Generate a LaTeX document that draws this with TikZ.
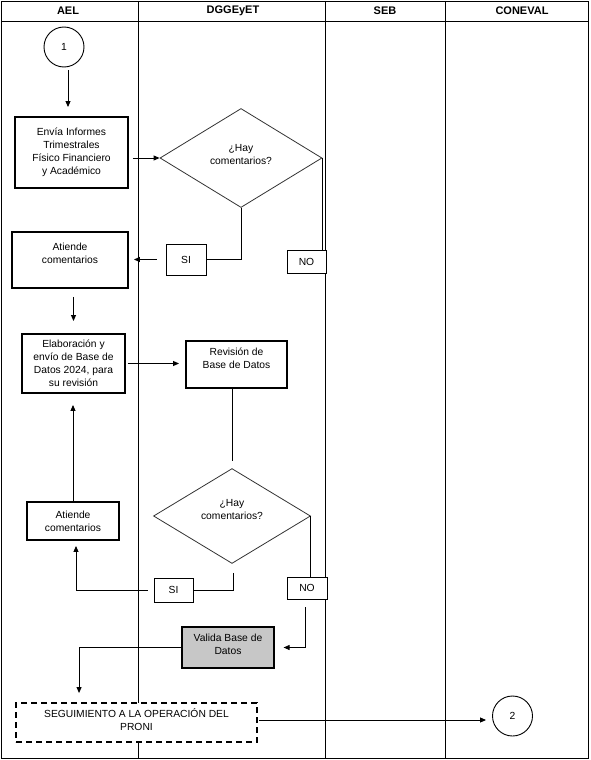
\documentclass[tikz,border=0pt]{standalone}
\usepackage{fontspec}
\setmainfont{Liberation Sans}
\usetikzlibrary{shapes.geometric,calc,arrows.meta}
\begin{document}
\begin{tikzpicture}[x=1pt,y=-1pt,
  every node/.style={font=\fontsize{10.3}{13}\selectfont, align=center, inner sep=0pt},
  frame/.style={line width=0.9pt, draw=black},
  head/.style={font=\fontsize{11}{12}\selectfont\bfseries},
  thickbox/.style={draw=black, line width=1.9pt, fill=white, rectangle},
  thinbox/.style={draw=black, line width=0.9pt, fill=white, rectangle},
  graybox/.style={draw=black, line width=1.2pt, fill=black!22, rectangle},
  dashbox/.style={draw=black, line width=1.9pt, fill=white, rectangle, dash pattern=on 6pt off 4pt},
  decision/.style={draw=black!80, line width=0.8pt, fill=white, diamond},
  circ/.style={draw=black, line width=0.9pt, fill=white, circle, minimum size=40pt},
  conn/.style={line width=0.9pt, draw=black},
  arr/.style={conn, -{Triangle[length=6pt,width=5pt]}}
]
\useasboundingbox (0,0) rectangle (590,760);
% frame and lanes
\draw[frame] (1,1) rectangle (588.5,758);
\draw[frame] (1,21) -- (588.5,21);
\foreach \x in {138,325,445} \draw[frame] (\x,1) -- (\x,758);
\node[head] (hA) at (68,11) {AEL};
\node[head] (hB) at (233,11) {DGGEyET};
\node[head] (hC) at (385,11) {SEB};
\node[head] (hD) at (522,11) {CONEVAL};
% nodes
\node[circ] (c1) at (64,47) {1};
\node[thickbox, minimum width=113pt, minimum height=71pt] (b1) at (71.5,152.5) {Envía Informes\\Trimestrales\\Físico Financiero\\y Académico};
\node[decision, minimum width=162pt, minimum height=99pt] (d1) at (241,158) {¿Hay\\comentarios?\\[-5pt]\mbox{}};
\node[thickbox, minimum width=116pt, minimum height=56pt] (a1) at (70,260) {Atiende\\comentarios\\\mbox{}};
\node[thinbox, minimum width=40pt, minimum height=31pt] (si1) at (186,259.5) {SI};
\node[thinbox, minimum width=39pt, minimum height=23pt] (no1) at (306.5,261.5) {NO};
\node[thickbox, minimum width=103pt, minimum height=59pt] (e) at (73.5,363.5) {Elaboración y\\envío de Base de\\Datos 2024, para\\su revisión};
\node[thickbox, minimum width=101pt, minimum height=47pt] (r) at (236.5,364.5) {Revisión de\\Base de Datos\\\mbox{}};
\node[decision, minimum width=157pt, minimum height=89pt] (d2) at (232,516) {¿Hay\\comentarios?\\\mbox{}};
\node[thickbox, minimum width=92pt, minimum height=38pt] (a2) at (73,521) {Atiende\\comentarios};
\node[thinbox, minimum width=39pt, minimum height=24pt] (si2) at (173.5,590) {SI};
\node[thinbox, minimum width=40pt, minimum height=22pt] (no2) at (307,588) {NO};
\node[graybox, minimum width=92pt, minimum height=41pt] (v) at (228,647.5) {Valida Base de\\Datos\\[-6pt]\mbox{}};
\node[dashbox, minimum width=241pt, minimum height=39pt] (s) at (136.5,722.5) {SEGUIMIENTO A LA OPERACIÓN DEL\\PRONI\\[-8pt]\mbox{}};
\node[circ] (c2) at (512.5,716) {2};
% connectors
\draw[arr] ($(c1.south)+(4,3)$) -- ($(b1.north)+(-3.5,-9)$);
\draw[arr] ($(b1.east |- d1.west)+(4,0)$) -- (d1.west);
\draw[conn] (d1.south) |- (si1.east);
\draw[arr] ($(si1.west)+(-9,0)$) -- ($(si1.west -| a1.east)+(5,0)$);
\draw[conn] (d1.east) -- (d1.east |- no1.north);
\draw[arr] ($(a1.south -| e.north)+(0,8)$) -- ($(e.north)+(0,-12)$);
\draw[arr] ($(e.east)+(2,0)$) -- ($(e.east -| r.west)+(-6,0)$);
\draw[conn] (r.south -| d2.north) -- ($(d2.north)+(0,-7)$);
\draw[arr] (a2.north) -- ($(a2.north |- e.south)+(0,11)$);
\draw[conn] ($(d2.south)+(1,9)$) |- (si2.east);
\draw[arr] ($(si2.west)+(-6,0)$) -| ($(a2.south)+(3,5)$);
\draw[conn] (d2.east) -- (d2.east |- no2.north);
\draw[arr] ($(no2.south)+(-2,8)$) |- ($(v.east)+(9,0)$);
\draw[arr] (v.west) -| ($(s.north west)+(64,-9)$);
\draw[arr] ($(s.east)+(1,-2.5)$) -- ($(s.east -| c2.west)+(-6,-2.5)$);
\end{tikzpicture}
\end{document}
